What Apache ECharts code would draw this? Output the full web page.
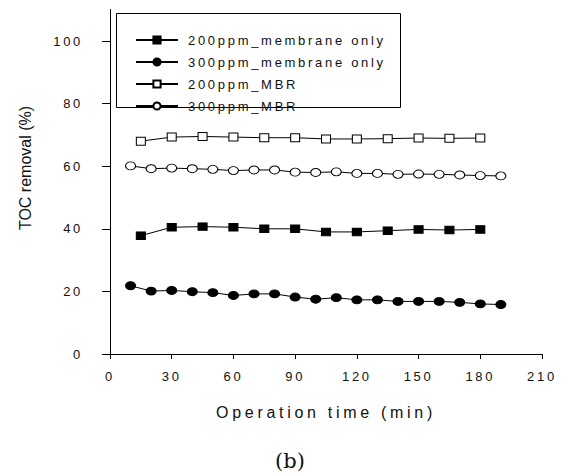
<!DOCTYPE html>
<html>
<head>
<meta charset="utf-8">
<script src="https://cdn.jsdelivr.net/npm/echarts@6/dist/echarts.min.js"></script>
<style>
html,body{margin:0;padding:0;background:#fff;}
#chart{width:562px;height:473px;}
</style>
</head>
<body>
<div id="chart"></div>
<script>
// x values (min)
var time15 = [15, 30, 45, 60, 75, 90, 105, 120, 135, 150, 165, 180];
var time10 = [10, 20, 30, 40, 50, 60, 70, 80, 90, 100, 110, 120, 130, 140, 150, 160, 170, 180, 190];
// TOC removal (%)
var membrane200 = [37.8, 40.5, 40.7, 40.5, 40.0, 40.0, 39.0, 39.0, 39.4, 39.8, 39.6, 39.8];
var membrane300 = [21.8, 20.1, 20.3, 19.9, 19.6, 18.7, 19.2, 19.2, 18.2, 17.5, 18.0, 17.3, 17.3, 16.8, 16.8, 16.8, 16.5, 16.0, 15.8];
var mbr200 = [68.0, 69.3, 69.5, 69.3, 69.1, 69.1, 68.7, 68.7, 68.8, 69.0, 68.9, 69.0];
var mbr300 = [60.1, 59.2, 59.4, 59.2, 59.0, 58.6, 58.8, 58.8, 58.1, 58.0, 58.2, 57.7, 57.7, 57.4, 57.5, 57.4, 57.2, 57.0, 56.9];
var seriesNames = ['200ppm_membrane only', '300ppm_membrane only', '200ppm_MBR', '300ppm_MBR'];
var xTitle = 'Operation time (min)';
var yTitle = 'TOC removal (%)';
var panelLabel = '(b)';

function pairs(xs, ys) { return xs.map(function (x, i) { return [x, ys[i]]; }); }

var FONT = 'Liberation Sans';
var ellipse = 'path://M0,4 A5,4 0 1,1 10,4 A5,4 0 1,1 0,4 Z';

var chart = echarts.init(document.getElementById('chart'), null, { renderer: 'svg' });

function mkSeries(name, data, symbol, size, fill) {
  return {
    name: name, type: 'line', data: data, symbol: symbol, symbolSize: size,
    showSymbol: true, silent: true, animation: false,
    lineStyle: { color: '#000', width: 1 },
    itemStyle: { color: fill, borderColor: '#000', borderWidth: 1 },
    emphasis: { disabled: true }
  };
}

chart.setOption({
  animation: false,
  backgroundColor: '#fff',
  grid: { left: 110, right: 20, top: 9.7, bottom: 119, containLabel: false },
  legend: {
    orient: 'vertical', left: 130, top: 28.5,
    itemWidth: 42, itemHeight: 9, itemGap: 9,
    selectedMode: false,
    textStyle: { fontFamily: FONT, fontSize: 13, color: '#111', padding: [0, 0, 0, 5] },
    data: seriesNames
  },
  xAxis: [{
    type: 'value', min: 0, max: 210, interval: 30,
    name: xTitle, nameLocation: 'middle', nameGap: 50,
    nameTextStyle: { fontFamily: FONT, fontSize: 16, color: '#111' },
    axisLine: { show: true, lineStyle: { color: '#000', width: 1 } },
    axisTick: { show: true, length: 5, inside: false, lineStyle: { color: '#000' } },
    axisLabel: { fontFamily: FONT, fontSize: 13, color: '#111', margin: 16 },
    splitLine: { show: false }
  }, {
    type: 'value', min: 0, max: 210, position: 'top',
    axisLine: { show: true, lineStyle: { color: '#000', width: 1 } },
    axisTick: { show: false }, axisLabel: { show: false }, splitLine: { show: false }
  }],
  yAxis: [{
    type: 'value', min: 0, max: 110, interval: 20,
    axisLine: { show: true, lineStyle: { color: '#000', width: 1 } },
    axisTick: { show: true, length: 8, inside: false, lineStyle: { color: '#000' } },
    axisLabel: { fontFamily: FONT, fontSize: 13, color: '#111', margin: 27, showMaxLabel: false },
    splitLine: { show: false }
  }, {
    type: 'value', min: 0, max: 110, position: 'right',
    axisLine: { show: true, lineStyle: { color: '#000', width: 1 } },
    axisTick: { show: false }, axisLabel: { show: false }, splitLine: { show: false }
  }],
  graphic: [
    { type: 'rect', shape: { x: 116.5, y: 13.5, width: 284, height: 94 },
      style: { fill: 'none', stroke: '#000', lineWidth: 1 }, silent: true },
    { type: 'text', x: 25, y: 168, rotation: Math.PI / 2,
      style: { text: yTitle, fontFamily: 'Arial, Liberation Sans', fontSize: 16, fill: '#111',
               textAlign: 'center', textVerticalAlign: 'middle' }, silent: true },
    { type: 'text', x: 290, y: 461,
      style: { text: panelLabel, fontFamily: 'DejaVu Serif', fontSize: 21, fill: '#111',
               textAlign: 'center', textVerticalAlign: 'middle' }, silent: true }
  ],
  series: [
    mkSeries(seriesNames[0], pairs(time15, membrane200), 'rect', [9, 7.5], '#000'),
    mkSeries(seriesNames[1], pairs(time10, membrane300), ellipse, [10, 8], '#000'),
    mkSeries(seriesNames[2], pairs(time15, mbr200), 'rect', [9, 8], '#fff'),
    mkSeries(seriesNames[3], pairs(time10, mbr300), ellipse, [10, 8], '#fff')
  ]
});

function applySpacing() {
  var texts = document.querySelectorAll('#chart text');
  for (var i = 0; i < texts.length; i++) {
    var t = texts[i];
    var cs = getComputedStyle(t);
    var fam = cs.fontFamily || '';
    var size = parseFloat(cs.fontSize);
    if (fam.indexOf('Liberation Sans') >= 0 && fam.indexOf('Arial') < 0) {
      t.style.letterSpacing = size > 14 ? '3.7px' : '2.7px';
    }
  }
}
try { chart.getZr().flush(); } catch (e) {}
applySpacing();
chart.on('finished', applySpacing);
setTimeout(applySpacing, 30);
setTimeout(applySpacing, 200);
</script>
</body>
</html>
